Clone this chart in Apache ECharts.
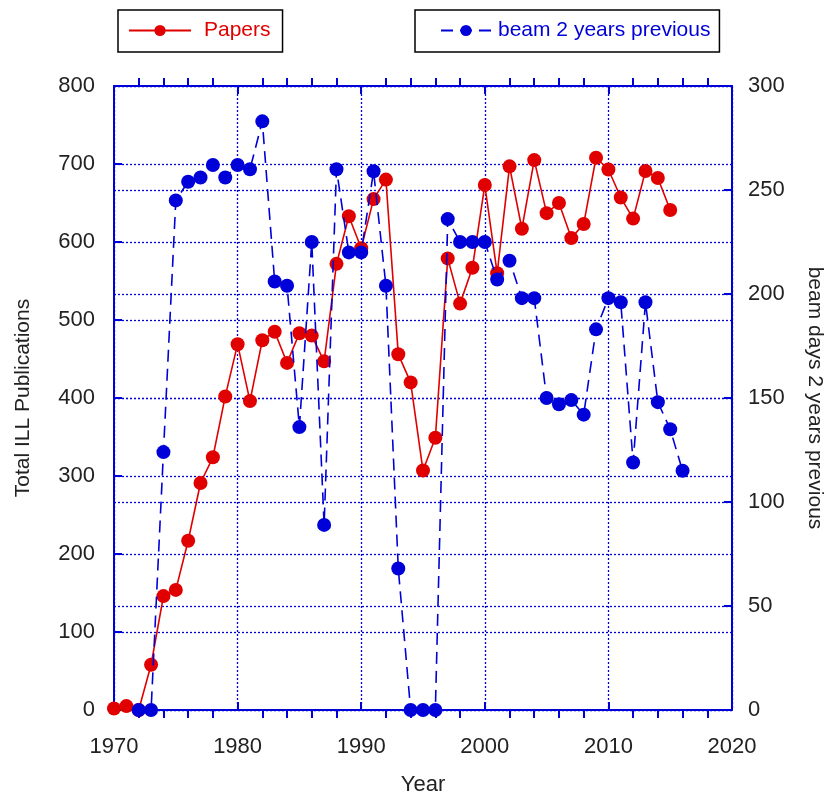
<!DOCTYPE html>
<html>
<head>
<meta charset="utf-8">
<script src="https://cdn.jsdelivr.net/npm/echarts@6/dist/echarts.min.js"></script>
<style>
    html, body { margin: 0; padding: 0; background: #fff; }
    #chart { width: 832px; height: 796px; }
</style>
</head>
<body>
<div id="chart"></div>
<script>
// Papers per year (left axis)
var paperYears = [1970, 1971, 1972, 1973, 1974, 1975, 1976, 1977, 1978, 1979,
    1980, 1981, 1982, 1983, 1984, 1985, 1986, 1987, 1988, 1989,
    1990, 1991, 1992, 1993, 1994, 1995, 1996, 1997, 1998, 1999,
    2000, 2001, 2002, 2003, 2004, 2005, 2006, 2007, 2008, 2009,
    2010, 2011, 2012, 2013, 2014, 2015];
var paperValues = [2, 5, 0, 58, 146, 154, 217, 291, 324, 402,
    469, 396, 474, 485, 445, 483, 480, 447, 572, 633,
    592, 655, 680, 456, 420, 307, 349, 579, 521, 567,
    673, 560, 697, 617, 705, 637, 650, 605, 623, 708,
    693, 657, 630, 691, 682, 641];

// beam days 2 years previous (right axis)
var beamYears = [1972, 1973, 1974, 1975, 1976, 1977, 1978, 1979,
    1980, 1981, 1982, 1983, 1984, 1985, 1986, 1987, 1988, 1989,
    1990, 1991, 1992, 1993, 1994, 1995, 1996, 1997, 1998, 1999,
    2000, 2001, 2002, 2003, 2004, 2005, 2006, 2007, 2008, 2009,
    2010, 2011, 2012, 2013, 2014, 2015, 2016];
var beamValues = [0, 0, 124, 245, 254, 256, 262, 256,
    262, 260, 283, 206, 204, 136, 225, 89, 260, 220,
    220, 259, 204, 68, 0, 0, 0, 236, 225, 225,
    225, 207, 216, 198, 198, 150, 147, 149, 142, 183,
    198, 196, 119, 196, 148, 135, 115];

// positions of the small outward ticks on the year axis
var minorTickYears = [];
for (var y = 1970; y <= 2020; y++) {
    minorTickYears.push(String(y));
}

var RED = '#e00000';
var BLUE = '#0000d8';
var FONT = '"Liberation Sans", Arial, sans-serif';

function pairs(xs, vs) {
    return xs.map(function (x, i) { return [x, vs[i]]; });
}

var chart = echarts.init(document.getElementById('chart'));

var dotted = {
    show: true,
    lineStyle: { color: BLUE, width: 1.3, type: [2, 2] }
};
var axisLine = { show: true, lineStyle: { color: BLUE, width: 2 } };

var option = {
    animation: false,
    backgroundColor: '#fff',
    textStyle: { fontFamily: FONT },
    legend: [{
        data: ['Papers'],
        left: 118,
        top: 10,
        orient: 'horizontal',
        padding: [10, 12, 11, 10],
        itemWidth: 62,
        itemHeight: 14,
        borderColor: '#000',
        borderWidth: 1.5,
        textStyle: { color: RED, fontSize: 21, fontFamily: FONT, padding: [0, 0, 0, 8] }
    }, {
        data: ['beam 2 years previous'],
        left: 415,
        top: 10,
        padding: [10, 9, 11, 25],
        itemWidth: 50,
        itemHeight: 14,
        borderColor: '#000',
        borderWidth: 1.5,
        textStyle: { color: BLUE, fontSize: 21, fontFamily: FONT, padding: [0, 0, 0, 2] }
    }],
    grid: {
        left: 114,
        right: 100,
        top: 86,
        bottom: 86,
        containLabel: false,
        outerBoundsMode: 'none'
    },
    xAxis: [{
        type: 'value',
        position: 'bottom',
        min: 1970,
        max: 2020,
        interval: 10,
        name: 'Year',
        nameLocation: 'middle',
        nameGap: 64,
        nameTextStyle: { color: '#222', fontSize: 22, fontFamily: FONT },
        axisLine: axisLine,
        axisTick: { show: true, inside: true, length: 8, lineStyle: { color: BLUE, width: 2 } },
        axisLabel: { color: '#222', fontSize: 22, fontFamily: FONT, margin: 26,
            formatter: function (v) { return String(v); } },
        splitLine: dotted
    }, {
        type: 'category',
        position: 'bottom',
        boundaryGap: false,
        data: minorTickYears,
        axisLine: { show: false },
        axisTick: {
            show: true, inside: false, length: 8,
            lineStyle: { color: BLUE, width: 2 },
            interval: function (i, v) { return v % 2 === 0 && v % 10 !== 0; }
        },
        axisLabel: { show: false },
        splitLine: { show: false }
    }, {
        type: 'value',
        position: 'top',
        min: 1970,
        max: 2020,
        interval: 10,
        axisLine: axisLine,
        axisTick: { show: true, inside: true, length: 8, lineStyle: { color: BLUE, width: 2 } },
        axisLabel: { show: false },
        splitLine: { show: false }
    }, {
        type: 'category',
        position: 'top',
        boundaryGap: false,
        data: minorTickYears,
        axisLine: { show: false },
        axisTick: {
            show: true, inside: false, length: 8,
            lineStyle: { color: BLUE, width: 2 },
            interval: function (i, v) { return v % 2 === 0 && v % 10 !== 0; }
        },
        axisLabel: { show: false },
        splitLine: { show: false }
    }],
    yAxis: [{
        type: 'value',
        position: 'left',
        min: 0,
        max: 800,
        interval: 100,
        name: 'Total ILL Publications',
        nameLocation: 'middle',
        nameGap: 80,
        nameTextStyle: { color: '#222', fontSize: 21, fontFamily: FONT },
        axisLine: axisLine,
        axisTick: { show: true, inside: true, length: 8, lineStyle: { color: BLUE, width: 2 } },
        axisLabel: { color: '#222', fontSize: 22, fontFamily: FONT, margin: 19 },
        splitLine: dotted
    }, {
        type: 'value',
        position: 'right',
        min: 0,
        max: 300,
        interval: 50,
        name: 'beam days 2 years previous',
        nameLocation: 'middle',
        nameRotate: -90,
        nameGap: 72,
        nameTextStyle: { color: '#222', fontSize: 21, fontFamily: FONT },
        axisLine: axisLine,
        axisTick: { show: true, inside: true, length: 8, lineStyle: { color: BLUE, width: 2 } },
        axisLabel: { color: '#222', fontSize: 22, fontFamily: FONT, margin: 16 },
        splitLine: dotted
    }],
    series: [{
        name: 'Papers',
        type: 'line',
        xAxisIndex: 0,
        yAxisIndex: 0,
        data: pairs(paperYears, paperValues),
        symbol: 'circle',
        symbolSize: 14,
        showAllSymbol: true,
        itemStyle: { color: RED },
        lineStyle: { color: RED, width: 1.6 },
        z: 3
    }, {
        name: 'beam 2 years previous',
        type: 'line',
        xAxisIndex: 0,
        yAxisIndex: 1,
        data: pairs(beamYears, beamValues),
        symbol: 'circle',
        symbolSize: 14,
        showAllSymbol: true,
        itemStyle: { color: BLUE },
        lineStyle: { color: BLUE, width: 1.6, type: [12, 7] },
        z: 4
    }]
};

chart.setOption(option);
</script>
</body>
</html>
